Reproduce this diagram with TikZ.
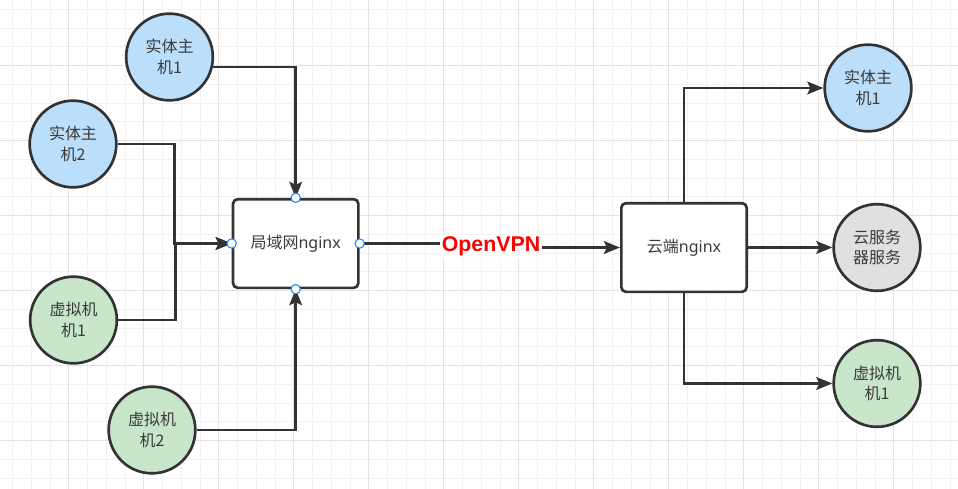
\documentclass[tikz,border=0pt]{standalone}
\usepackage{fontspec}
\setmainfont{Noto Sans}
\newfontfamily\cjk{Noto Sans CJK SC}
\newfontfamily\vpnfont{Liberation Sans}
\usetikzlibrary{arrows.meta}
\definecolor{strokec}{HTML}{333333}
\definecolor{textc}{HTML}{3A3A3A}
\definecolor{bluefill}{HTML}{BBDEFB}
\definecolor{greenfill}{HTML}{C8E6C9}
\definecolor{grayfill}{HTML}{E0E0E0}
\definecolor{portc}{HTML}{1A8CFF}
\definecolor{gridminor}{HTML}{F1F1F1}
\definecolor{gridmajor}{HTML}{E3E3E3}
\tikzset{
  hostnode/.style={circle, draw=strokec, line width=2pt, minimum size=65pt, inner sep=0pt,
    text=textc, align=center, font=\cjk\fontsize{12pt}{15.5pt}\selectfont},
  boxnode/.style={rectangle, rounded corners=3.5pt, draw=strokec, line width=2pt, fill=white,
    minimum width=94pt, minimum height=66.5pt, text=textc, font=\fontsize{12pt}{15.5pt}\selectfont},
  conn/.style={draw=strokec, line width=2pt},
  arr/.style={conn, -{Stealth[length=12pt,width=9.5pt,inset=2.2pt]}},
  port/.style={circle, draw=portc, fill=white, line width=0.8pt, minimum size=7pt, inner sep=0pt},
  vpnlabel/.style={fill=white, text=red, inner sep=1.5pt, font=\vpnfont\bfseries\fontsize{16pt}{19pt}\selectfont}
}
\begin{document}
\begin{tikzpicture}[x=0.75pt,y=-0.75pt]
\useasboundingbox (0,0) rectangle (958,489);
\fill[white] (0,0) rectangle (958,489);
% grid
\foreach \k in {0,...,51} {
  \draw[gridminor, line width=0.75pt] ({12.5+18.75*\k},0) -- ({12.5+18.75*\k},489);
}
\foreach \k in {0,...,26} {
  \draw[gridminor, line width=0.75pt] (0,{9.35+18.75*\k}) -- (958,{9.35+18.75*\k});
}
\foreach \k in {0,...,12} {
  \draw[gridmajor, line width=0.75pt] ({-6.25+75*\k},0) -- ({-6.25+75*\k},489);
}
\foreach \k in {0,...,6} {
  \draw[gridmajor, line width=0.75pt] (0,{-9.4+75*\k}) -- (958,{-9.4+75*\k});
}

% left hosts
\node[hostnode, fill=bluefill] (h1) at (169.5,57) {实体主\\机1};
\node[hostnode, fill=bluefill] (h2) at (73,144) {实体主\\机2};
\node[hostnode, fill=greenfill] (v1) at (73.5,320) {虚拟机\\机1};
\node[hostnode, fill=greenfill] (v2) at (152,430) {虚拟机\\机2};

% boxes
\node[boxnode] (lan) at (295.7,243.5) {{\cjk 局域网}nginx};
\node[boxnode] (cloud) at (684,247.5) {{\cjk 云端}nginx};

% right nodes
\node[hostnode, fill=bluefill] (r1) at (868,88) {实体主\\机1};
\node[hostnode, fill=grayfill] (srv) at (877,247.5) {云服务\\器服务};
\node[hostnode, fill=greenfill] (r3) at (877,383.5) {虚拟机\\机1};

% left connectors
\draw[arr] (h1.-13) -| (lan.north);
\draw[arr] (h2.east) -- ++(57,0) |- (lan.west);
\draw[arr] (v1.east) -- ++(57,0) |- (lan.west);
\draw[arr] (v2.east) -| (lan.south);

% vpn connector
\coordinate (vpnc) at (491,245.5);
\draw[arr] (lan.east) -| (vpnc) |- (cloud.west);
\node[vpnlabel] (vpn) at (491,246.5) {OpenVPN};

% right connectors
\draw[arr] (cloud.north) |- (r1.west);
\draw[arr] (cloud.east) -- (srv.west);
\draw[arr] (cloud.south) |- (r3.west);

% ports
\node[port] (p1) at (lan.north) {};
\node[port] (p2) at (lan.west) {};
\node[port] (p3) at (lan.east) {};
\node[port] (p4) at (lan.south) {};
\end{tikzpicture}
\end{document}
